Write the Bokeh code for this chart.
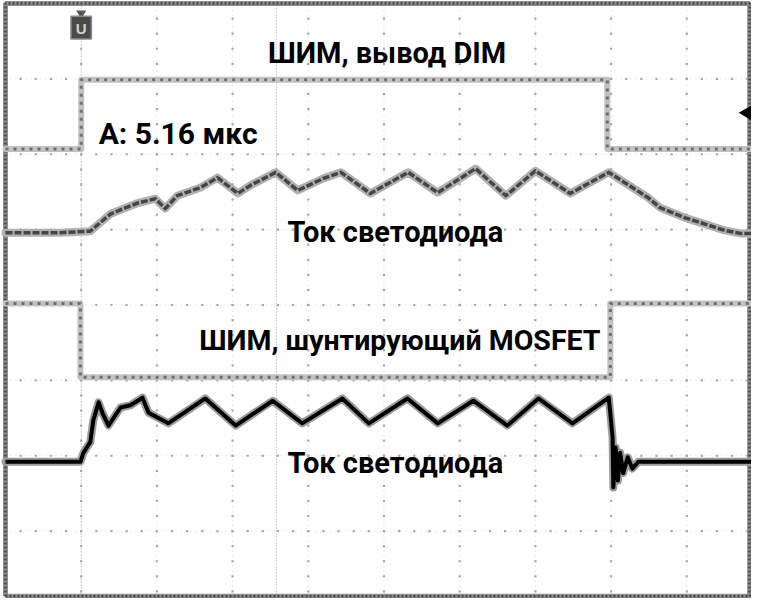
import numpy as np
from bokeh.plotting import figure
from bokeh.models import Range1d, Label
from bokeh.core.properties import value
from bokeh.embed import file_html
from bokeh.resources import INLINE

# ---- data, in oscilloscope divisions (x: 0..10, y: 0..8 from bottom) ----
dim_t = [0.0, 1.0, 1.0, 7.95, 7.95, 10.0]
dim_v = [6.07, 6.07, 6.99, 6.99, 6.07, 6.07]

mos_t = [0.0, 0.99, 0.99, 7.99, 7.99, 10.0]
mos_v = [4.02, 4.02, 3.04, 3.04, 4.02, 4.02]

led1_t = [0.0, 0.73, 1.12, 1.39, 1.74, 1.98, 2.11, 2.27, 2.58, 2.80, 3.07, 3.24,
          3.57, 3.86, 4.20, 4.43, 4.82, 5.32, 5.71, 6.21, 6.61, 7.00, 7.46, 7.97,
          8.48, 8.65, 8.97, 9.50, 9.71, 10.0]
led1_v = [4.96, 4.96, 4.98, 5.21, 5.35, 5.41, 5.28, 5.45, 5.56, 5.69, 5.48, 5.59,
          5.76, 5.52, 5.68, 5.76, 5.48, 5.76, 5.49, 5.81, 5.45, 5.78, 5.48, 5.76,
          5.43, 5.29, 5.16, 4.99, 4.95, 4.95]

led2_t = [0.0, 0.99, 1.03, 1.12, 1.16, 1.23, 1.28, 1.36, 1.52, 1.65, 1.81, 1.89,
          2.15, 2.64, 3.04, 3.53, 3.92, 4.45, 4.80, 5.31, 5.71, 6.18, 6.63, 7.04,
          7.49, 7.97, 8.02, 8.03, 8.06, 8.09, 8.12, 8.16, 8.22, 8.28, 8.36, 10.0]
led2_v = [1.92, 1.92, 2.04, 2.18, 2.47, 2.71, 2.57, 2.40, 2.64, 2.67, 2.77, 2.57,
          2.43, 2.76, 2.40, 2.73, 2.43, 2.76, 2.43, 2.76, 2.43, 2.73, 2.40, 2.76,
          2.43, 2.77, 2.24, 1.58, 2.11, 1.67, 2.04, 1.77, 1.98, 1.83, 1.92, 1.92]

label_texts = ["ШИМ, вывод DIM", "A: 5.16 мкс", "Ток светодиода",
               "ШИМ, шунтирующий MOSFET", "Ток светодиода"]
label_x = [5.04, 2.28, 5.15, 5.21, 5.15]
label_y = [7.34, 6.28, 4.97, 3.53, 1.91]
label_size = ["29px", "30px", "29px", "28.5px", "29px"]

cursor_t = [1.0, 3.58]
trig_level = 6.55

p = figure(width=751, height=598, x_range=Range1d(-0.066, 9.855),
           y_range=Range1d(0.106, 8.040), output_backend="svg",
           toolbar_location=None, min_border=0, x_axis_type=None,
           y_axis_type=None, background_fill_color="white")
p.outline_line_color = None
p.xgrid.visible = False
p.ygrid.visible = False

# graticule
gx = list(range(1, 10))
gy = list(range(1, 8))
p.multi_line([[x, x] for x in gx], [[0, 8] for _ in gx], line_color="#d6d6d6",
             line_width=1, line_dash="1 4")
p.multi_line([[0, 10] for _ in gy], [[y, y] for y in gy], line_color="#d6d6d6",
             line_width=1, line_dash="1 4")
dx, dy = [], []
for x in gx:
    for t in np.arange(0.2, 8.0, 0.2):
        dx.append(x); dy.append(t)
for y in gy:
    for t in np.arange(0.2, 10.0, 0.2):
        dx.append(t); dy.append(y)
p.scatter(dx, dy, marker="square", size=2.2, fill_color="#a8a8a8",
          line_color=None)

# cursors
p.multi_line([[c, c] for c in cursor_t], [[0, 8] for _ in cursor_t],
             line_color="#a8a8a8", line_width=1, line_dash="1 2")

# frame
fx = [0.0, 9.83, 9.83, 0.0, 0.0]
fy = [0.135, 0.135, 8.0, 8.0, 0.135]
p.line(fx, fy, line_color="#8e8e8e", line_width=5)
p.line(fx, fy, line_color="#4a4a4a", line_width=2.5, line_dash="2 2")


def trace(x, y, halo, core, hw, cw, dash="solid"):
    p.line(x, y, line_color=halo, line_width=hw, line_join="round",
           line_cap="round")
    p.line(x, y, line_color=core, line_width=cw, line_dash=dash,
           line_join="round")


trace(dim_t, dim_v, "#c2c2c2", "#707070", 6, 3, "3 5")
trace(mos_t, mos_v, "#c2c2c2", "#707070", 6, 3, "3 5")
trace(led1_t, led1_v, "#b0b0b0", "#454545", 8, 3.5, "7 2")
trace(led2_t, led2_v, "#9c9c9c", "#000000", 8, 4)

# trigger position marker (top) and trigger level marker (right)
p.scatter([1.0], [7.87], marker="inverted_triangle", size=10,
          fill_color="#555555", line_color=None)
p.rect([1.0], [7.68], width=0.27, height=0.30, fill_color="#4a4a4a",
       line_color="#8a8a8a", line_width=1.5)
p.text([1.0], [7.67], text=["U"], text_font=value("Liberation Sans"),
       text_font_style="bold", text_font_size="15px", text_align="center",
       text_baseline="middle", text_color="#d0d0d0")
p.segment([9.86], [trig_level], [9.95], [trig_level], line_color="#555555",
          line_width=2)
p.scatter([9.80], [trig_level], marker="triangle", angle=np.pi / 2, size=15,
          fill_color="black", line_color=None)

for t, x, y, s in zip(label_texts, label_x, label_y, label_size):
    p.add_layout(Label(x=x, y=y, text=t, text_font="Roboto",
                       text_font_style="bold", text_font_size=s,
                       text_align="center", text_baseline="alphabetic",
                       text_color="black"))

open("out.html", "w").write(file_html(p, INLINE))
